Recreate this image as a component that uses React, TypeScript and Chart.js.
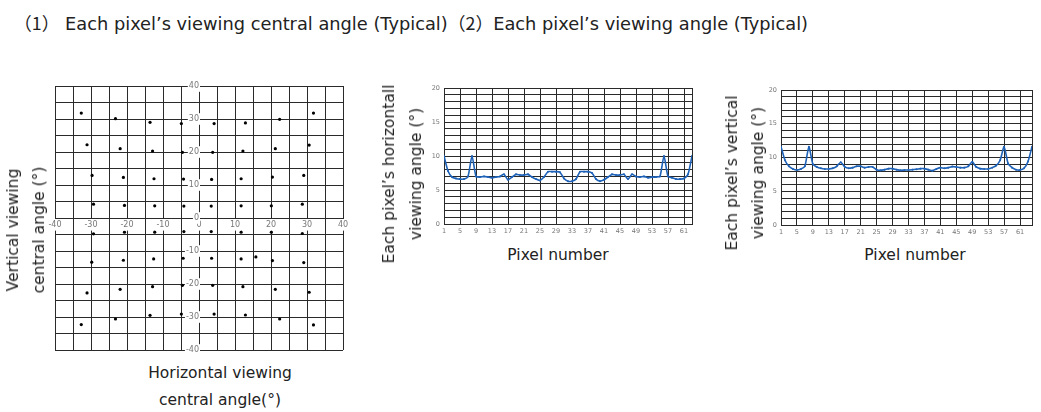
import React, { useEffect, useRef } from "react";
import { Chart, registerables } from "chart.js";

Chart.register(...registerables);

// ---------- Panel (1): viewing central angle of each pixel ----------
const centralX = [
  -32.7, -23.2, -13.6, -4.9, 4.2, 12.9, 22.4, 31.8,
  -31.1, -21.9, -12.9, -4.6, 3.8, 12.2, 21.2, 30.6,
  -29.7, -21.0, -12.5, -4.3, 3.5, 11.7, 20.4, 29.1,
  -29.3, -20.7, -12.3, -4.2, 3.4, 11.7, 20.1, 28.7,
  -29.3, -20.7, -12.3, -4.2, 3.4, 11.7, 20.1, 28.7,
  -29.8, -21.0, -12.6, -4.4, 3.5, 11.7, 15.8, 20.4, 29.1,
  -31.1, -21.9, -12.9, -4.6, 3.8, 12.2, 21.2, 30.6,
  -32.7, -23.2, -13.6, -4.9, 4.2, 12.9, 22.4, 31.8,
];
const centralY = [
  31.8, 30.1, 29.0, 28.6, 28.6, 28.8, 29.9, 31.8,
  22.2, 21.0, 20.3, 19.9, 19.9, 20.3, 21.0, 22.1,
  12.9, 12.3, 11.9, 11.8, 11.7, 11.9, 12.4, 12.9,
  4.2, 3.8, 3.7, 3.6, 3.6, 3.7, 3.7, 4.2,
  -4.8, -4.3, -4.3, -4.1, -4.1, -4.3, -4.3, -4.7,
  -13.4, -12.8, -12.4, -12.2, -12.2, -12.4, -11.8, -12.9, -13.5,
  -22.7, -21.6, -20.8, -20.4, -20.4, -20.8, -21.6, -22.5,
  -32.3, -30.6, -29.5, -29.1, -29.1, -29.4, -30.6, -32.4,
];
const centralTickLabels = [-40, -30, -20, -10, 0, 10, 20, 30, 40];

// ---------- Panel (2): horizontal viewing angle per pixel ----------
const hAngle = [
  10.0, 7.8, 6.9, 6.7, 6.6, 6.6, 7.0, 10.0, 7.0, 6.9,
  7.0, 6.9, 6.8, 6.9, 7.0, 7.3, 6.5, 6.9, 7.3, 7.2,
  7.2, 7.3, 6.9, 6.6, 6.4, 6.9, 7.7, 7.7, 7.7, 7.6,
  6.7, 6.3, 6.3, 6.6, 7.7, 7.7, 7.7, 7.5, 6.6, 6.3,
  6.5, 6.9, 7.3, 7.2, 7.2, 7.3, 6.6, 7.3, 7.0, 6.9,
  7.0, 6.8, 6.9, 6.9, 7.0, 10.0, 7.0, 6.8, 6.6, 6.6,
  6.7, 7.3, 10.0,
];

// ---------- Panel (3): vertical viewing angle per pixel ----------
const vAngle = [
  11.6, 9.6, 8.7, 8.3, 8.15, 8.3, 8.7, 11.6, 9.0, 8.6,
  8.4, 8.3, 8.3, 8.4, 8.7, 9.3, 8.6, 8.4, 8.5, 8.7,
  8.7, 8.5, 8.6, 8.6, 8.2, 8.1, 8.2, 8.35, 8.35, 8.2,
  8.1, 8.15, 8.15, 8.2, 8.25, 8.35, 8.35, 8.2, 8.05, 8.3,
  8.5, 8.4, 8.5, 8.65, 8.6, 8.5, 8.5, 8.7, 9.35, 8.6,
  8.35, 8.3, 8.3, 8.5, 8.8, 9.6, 11.6, 9.1, 8.5, 8.2,
  8.15, 8.4, 9.4, 11.6,
];

const pixelTickLabels = [1, 5, 9, 13, 17, 21, 25, 29, 33, 37, 41, 45, 49, 53, 57, 61];
const angleTickLabels = [0, 5, 10, 15, 20];

const GRID = "#2a2a2a";
const TICK_COLOR = "#777";
const BLUE = "#1e62b8";
const FONT = "DejaVu Sans";

function scatterConfig(): any {
  const tickFont = { family: FONT, size: 8 };
  const axis = (pos: any) => ({
    type: "linear",
    min: -40,
    max: 40,
    position: pos,
    grid: { color: GRID, lineWidth: 1, drawTicks: false },
    border: { display: true, color: GRID, width: 1 },
    ticks: {
      stepSize: 5,
      autoSkip: false,
      maxRotation: 0,
      padding: 2,
      z: 1,
      color: TICK_COLOR,
      font: tickFont,
      callback: (v: number) => (centralTickLabels.includes(v) ? String(v) : ""),
      showLabelBackdrop: (ctx: any) => centralTickLabels.includes(ctx.tick && ctx.tick.value),
      backdropColor: "#ffffff",
      backdropPadding: 1,
    },
  });
  return {
    type: "scatter",
    data: {
      datasets: [
        {
          data: centralX.map((x, i) => ({ x, y: centralY[i] })),
          pointRadius: 1.6,
          pointBackgroundColor: "#000",
          pointBorderWidth: 0,
          borderWidth: 0,
        },
      ],
    },
    options: {
      responsive: false,
      animation: false,
      layout: { padding: { left: 25, right: 17, top: 10, bottom: 10 } },
      plugins: { legend: { display: false }, tooltip: { enabled: false } },
      scales: {
        x: axis({ y: 0 }),
        y: axis({ x: 0 }),
      },
    },
  };
}

function lineConfig(values: number[], maxX: number, padRight: number): any {
  const tickFont = { family: FONT, size: 6.5 };
  return {
    type: "line",
    data: {
      datasets: [
        {
          data: values.map((v, i) => ({ x: i + 1, y: v })),
          borderColor: BLUE,
          backgroundColor: BLUE,
          borderWidth: 1.6,
          pointRadius: 1,
          pointBorderWidth: 0,
          pointBackgroundColor: BLUE,
          tension: 0.2,
        },
      ],
    },
    options: {
      responsive: false,
      animation: false,
      layout: { padding: { left: 0, right: padRight, top: 8, bottom: 0 } },
      plugins: { legend: { display: false }, tooltip: { enabled: false } },
      scales: {
        x: {
          type: "linear",
          min: 1,
          max: maxX,
          afterBuildTicks: (s: any) => {
            s.ticks = [...pixelTickLabels, maxX].map((v) => ({ value: v }));
          },
          afterFit: (s: any) => {
            s.height = 16;
          },
          grid: { color: GRID, lineWidth: 1, drawTicks: false },
          border: { display: true, color: GRID, width: 1 },
          ticks: {
            autoSkip: false,
            maxRotation: 0,
            padding: 3,
            color: TICK_COLOR,
            font: tickFont,
            callback: (v: number) => (pixelTickLabels.includes(v) ? String(v) : ""),
          },
        },
        y: {
          type: "linear",
          min: 0,
          max: 20,
          afterFit: (s: any) => {
            s.width = 28;
          },
          grid: { color: GRID, lineWidth: 1, drawTicks: false },
          border: { display: true, color: GRID, width: 1 },
          ticks: {
            stepSize: 1,
            autoSkip: false,
            padding: 4,
            color: TICK_COLOR,
            font: tickFont,
            callback: (v: number) => (angleTickLabels.includes(v) ? String(v) : ""),
          },
        },
      },
    },
  };
}

function ChartCanvas(props: { make: () => any; left: number; top: number; width: number; height: number }) {
  const ref = useRef<HTMLCanvasElement | null>(null);
  useEffect(() => {
    if (!ref.current) return;
    const chart = new Chart(ref.current, props.make());
    return () => chart.destroy();
  }, []);
  return (
    <canvas
      ref={ref}
      width={props.width}
      height={props.height}
      style={{ position: "absolute", left: props.left, top: props.top, width: props.width, height: props.height }}
    />
  );
}

function Title(props: { cx: number; cy: number; lines: string[]; lh: number; rotate?: boolean; size?: number }) {
  return (
    <div
      style={{
        position: "absolute",
        left: props.cx,
        top: props.cy,
        transform: props.rotate ? "translate(-50%, -50%) rotate(-90deg)" : "translate(-50%, -50%)",
        whiteSpace: "nowrap",
        textAlign: "center",
        fontFamily: FONT,
        fontSize: props.size || 15.5,
        lineHeight: props.lh + "px",
        color: "#222",
      }}
    >
      {props.lines.map((l) => (
        <div key={l}>{l}</div>
      ))}
    </div>
  );
}

const CJK = { fontFamily: '"Noto Sans CJK JP"' };

export default function App() {
  return (
    <div
      style={{
        position: "absolute",
        left: 0,
        top: 0,
        width: 1041,
        height: 412,
        background: "#fff",
        overflow: "hidden",
        fontFamily: FONT,
      }}
    >
      <div
        style={{
          position: "absolute",
          left: 14,
          top: 11,
          fontSize: 17.8,
          lineHeight: "22px",
          whiteSpace: "nowrap",
          color: "#222",
        }}
      >
        <span style={CJK}>（1）</span> Each pixel’s viewing central angle (Typical)<span style={CJK}>（2）</span>Each
        pixel’s viewing angle (Typical)
      </div>

      <ChartCanvas make={scatterConfig} left={30} top={76} width={330} height={284} />
      <Title cx={25.5} cy={230} lines={["Vertical viewing", "central angle (°)"]} lh={26} rotate />
      <Title cx={220} cy={387} lines={["Horizontal viewing", "central angle(°)"]} lh={27} />

      <ChartCanvas make={() => lineConfig(hAngle, 63, 14)} left={416} top={80} width={290} height={160} />
      <Title cx={403} cy={174} lines={["Each pixel’s horizontall", "viewing angle (°)"]} lh={27} rotate />
      <Title cx={558} cy={255} lines={["Pixel number"]} lh={20} />

      <ChartCanvas make={() => lineConfig(vAngle, 64, 7)} left={753} top={82} width={286} height={159} />
      <Title cx={745} cy={173} lines={["Each pixel’s vertical", "viewing angle (°)"]} lh={26} rotate />
      <Title cx={915} cy={255} lines={["Pixel number"]} lh={20} />
    </div>
  );
}
